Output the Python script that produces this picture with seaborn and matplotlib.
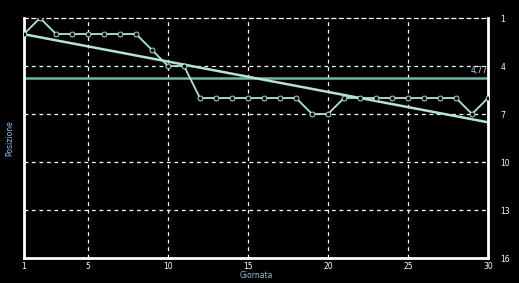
import numpy as np
import pandas as pd
import matplotlib
matplotlib.use("Agg")
import matplotlib.pyplot as plt
import seaborn as sns

giornate = list(range(1, 31))
posizioni = [2, 1, 2, 2, 2, 2, 2, 2, 3, 4, 4, 6, 6, 6, 6, 6, 6, 6, 7, 7,
             6, 6, 6, 6, 6, 6, 6, 6, 7, 6]
y_ticks = [1, 4, 7, 10, 13, 16]
x_ticks = [1, 5, 10, 15, 20, 25, 30]

df = pd.DataFrame({"Giornata": giornate, "Posizione": posizioni})
media = np.mean(posizioni)

sns.set_style("dark")
plt.rcParams["font.family"] = ["DejaVu Sans"]

fig = plt.figure(figsize=(5.19, 2.83), dpi=100, facecolor="black")
ax = fig.add_axes([24 / 519, 25 / 283, 464 / 519, 240 / 283])
ax.set_facecolor("black")

line_col = "#b4e2d6"
ax.axhline(media, color="#6fb5a5", lw=1.8, zorder=2)
sns.regplot(data=df, x="Giornata", y="Posizione", scatter=False, ci=None,
            truncate=True, line_kws={"color": line_col, "lw": 1.8}, ax=ax)
sns.lineplot(data=df, x="Giornata", y="Posizione", color=line_col, lw=1.3,
             marker="o", markersize=3.5, markerfacecolor="black",
             markeredgecolor=line_col, markeredgewidth=0.7, ax=ax, zorder=4)

ax.text(30, media - 0.2, f"{media:.2f}".replace(".", ","), color="#b8d8f0",
        fontsize=5.5, ha="right", va="bottom")

ax.set_xlim(1, 30)
ax.set_ylim(16, 1)
ax.set_xticks(x_ticks)
ax.set_yticks(y_ticks)
ax.yaxis.tick_right()
ax.tick_params(colors="white", labelsize=5.5, length=0)
ax.tick_params(axis="x", pad=3)
ax.tick_params(axis="y", pad=9)
ax.set_xlabel("Giornata", color="#8ec0f0", fontsize=5.5)
ax.set_ylabel("Posizione", color="#8ec0f0", fontsize=5.5)
ax.yaxis.set_label_position("left")
ax.xaxis.set_label_coords(0.5, -0.055)
ax.yaxis.set_label_coords(-0.02, 0.5)

ax.grid(False)
for v in [5, 10, 15, 20, 25]:
    ax.axvline(v, color="white", lw=0.9, ls=(0, (3, 3)), zorder=1)
for h in [4, 7, 10, 13]:
    ax.axhline(h, color="white", lw=0.9, ls=(0, (3, 3)), zorder=1)

for s in ["left", "right", "bottom"]:
    ax.spines[s].set_color("white")
    ax.spines[s].set_linewidth(2)
ax.spines["top"].set_color("white")
ax.spines["top"].set_linewidth(0.9)
ax.spines["top"].set_linestyle((0, (3, 3)))

fig.savefig("out.png", dpi=100, facecolor="black")
